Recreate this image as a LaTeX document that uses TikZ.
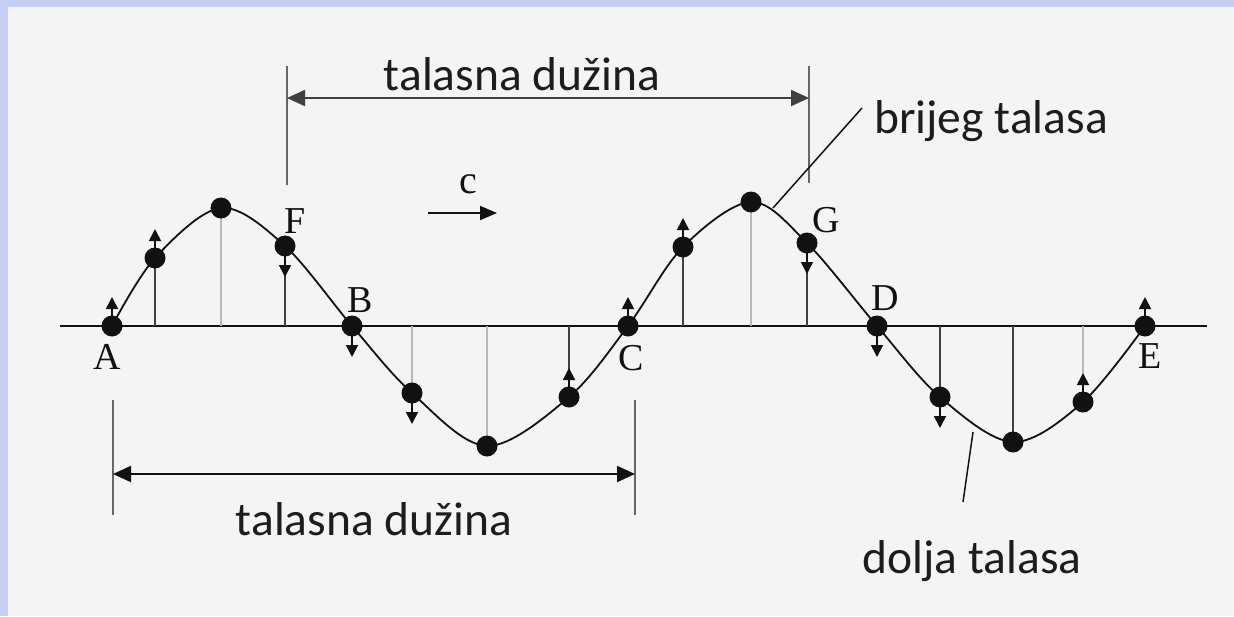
\documentclass[tikz,border=0pt]{standalone}
\usepackage{fontspec}
\newfontfamily\labfont{Carlito}
\newfontfamily\letfont{Liberation Serif}
\usetikzlibrary{arrows.meta}
\definecolor{bgc}{HTML}{F4F4F4}
\definecolor{bluec}{HTML}{C7CEF3}
\definecolor{ink}{HTML}{111111}
\tikzset{
  dot/.style={circle,fill=ink,inner sep=0pt,minimum size=21pt},
  lbl/.style={font=\labfont\fontsize{47.5}{50}\selectfont, text=ink!95, anchor=base, inner sep=0pt},
  ltr/.style={font=\letfont\fontsize{38}{40}\selectfont, text=ink, anchor=base, inner sep=0pt},
  darkstalk/.style={line width=1.4pt, draw=black!75},
  lightstalk/.style={line width=1.4pt, draw=black!28},
  motion/.style={line width=1.8pt, draw=ink, -{Triangle[length=12pt,width=12pt]}},
  dimline/.style={line width=2pt, draw=black!75, {Triangle[length=18pt,width=16pt]}-{Triangle[length=18pt,width=16pt]}},
  extline/.style={line width=1.3pt, draw=black!60},
  leader/.style={line width=1.5pt, draw=ink},
  wave/.style={line width=1.8pt, draw=ink},
}
\begin{document}
\begin{tikzpicture}[x=1pt,y=-1pt]
\useasboundingbox (0,0) rectangle (1234,616);
\fill[bgc] (0,0) rectangle (1234,616);
\fill[bluec] (0,0) rectangle (1234,7);
\fill[bluec] (0,0) rectangle (8,616);

% axis
\coordinate (axL) at (60,326);
\coordinate (axR) at (1207,326);
\draw[line width=2pt, draw=ink] (axL) -- (axR);

% wave points
\coordinate (A)  at (112,326);
\coordinate (p1) at (155,258);
\coordinate (P1) at (221,208);
\coordinate (F)  at (285,246);
\coordinate (B)  at (352,326);
\coordinate (p3) at (412,393);
\coordinate (T1) at (487,446);
\coordinate (p4) at (569,397);
\coordinate (C)  at (628,326);
\coordinate (p5) at (683,247);
\coordinate (P2) at (751,202);
\coordinate (G)  at (807,243);
\coordinate (D)  at (877,326);
\coordinate (p7) at (940,397);
\coordinate (T2) at (1013,442);
\coordinate (p8) at (1083,402);
\coordinate (E)  at (1145,326);

% stalks
\foreach \n in {p1,F,p4,p5,G,p7,T2}
  \draw[darkstalk] (\n) -- (\n |- axL);
\foreach \n in {P1,p3,T1,P2,p8}
  \draw[lightstalk] (\n) -- (\n |- axL);

% wave
\draw[wave] plot[smooth, tension=0.55] coordinates {(A) (p1) (P1) (F) (B) (p3) (T1) (p4) (C) (p5) (P2) (G) (D) (p7) (T2) (p8) (E)};

% motion arrows
\foreach \n in {A,p1,p4,C,p5,p8,E}
  \draw[motion] (\n) -- ([yshift=29pt]\n);
\foreach \n in {F,B,p3,G,D,p7}
  \draw[motion] (\n) -- ([yshift=-31pt]\n);

% dots
\foreach \n in {A,p1,P1,F,B,p3,T1,p4,C,p5,P2,G,D,p7,T2,p8,E}
  \node[dot] (d\n) at (\n) {};

% letters
\node[ltr] (lA) at (107,369) {A};
\node[ltr] (lF) at (295,233) {F};
\node[ltr] (lB) at (360,312) {B};
\node[ltr] (lC) at (631,370) {C};
\node[ltr] (lG) at (826,232) {G};
\node[ltr] (lD) at (885,310) {D};
\node[ltr] (lE) at (1150,368) {E};
\node[ltr, font=\letfont\fontsize{40}{40}\selectfont] (lc) at (468,193) {c};

% propagation arrow
\coordinate (ca1) at (428,213);
\coordinate (ca2) at (497,213);
\draw[line width=1.8pt, draw=ink, -{Triangle[length=17pt,width=14pt]}] (ca1) -- (ca2);

% top wavelength
\coordinate (tx1a) at (287,66);
\coordinate (tx1b) at (287,185);
\coordinate (tx2a) at (809,66);
\coordinate (tx2b) at (809,183);
\draw[extline] (tx1a) -- (tx1b);
\draw[extline] (tx2a) -- (tx2b);
\coordinate (tl) at (287,98);
\coordinate (tr) at (809,98);
\draw[dimline] (tl) -- (tr);
\node[lbl] (toplbl) at (522,90) {talasna dužina};

% bottom wavelength
\coordinate (bx1a) at (113,400);
\coordinate (bx1b) at (113,515);
\coordinate (bx2a) at (635,400);
\coordinate (bx2b) at (635,515);
\draw[extline] (bx1a) -- (bx1b);
\draw[extline] (bx2a) -- (bx2b);
\coordinate (bl) at (113,474);
\coordinate (br) at (635,474);
\draw[dimline, draw=ink] (bl) -- (br);
\node[lbl] (botlbl) at (374,535) {talasna dužina};

% crest label
\coordinate (cr1) at (773,208);
\coordinate (cr2) at (862,108);
\draw[leader] (cr1) -- (cr2);
\node[lbl] (crest) at (991,133) {brijeg talasa};

% trough label
\coordinate (tr1) at (973,432);
\coordinate (tr2) at (963,502);
\draw[leader] (tr1) -- (tr2);
\node[lbl] (trough) at (972,573) {dolja talasa};
\end{tikzpicture}
\end{document}
